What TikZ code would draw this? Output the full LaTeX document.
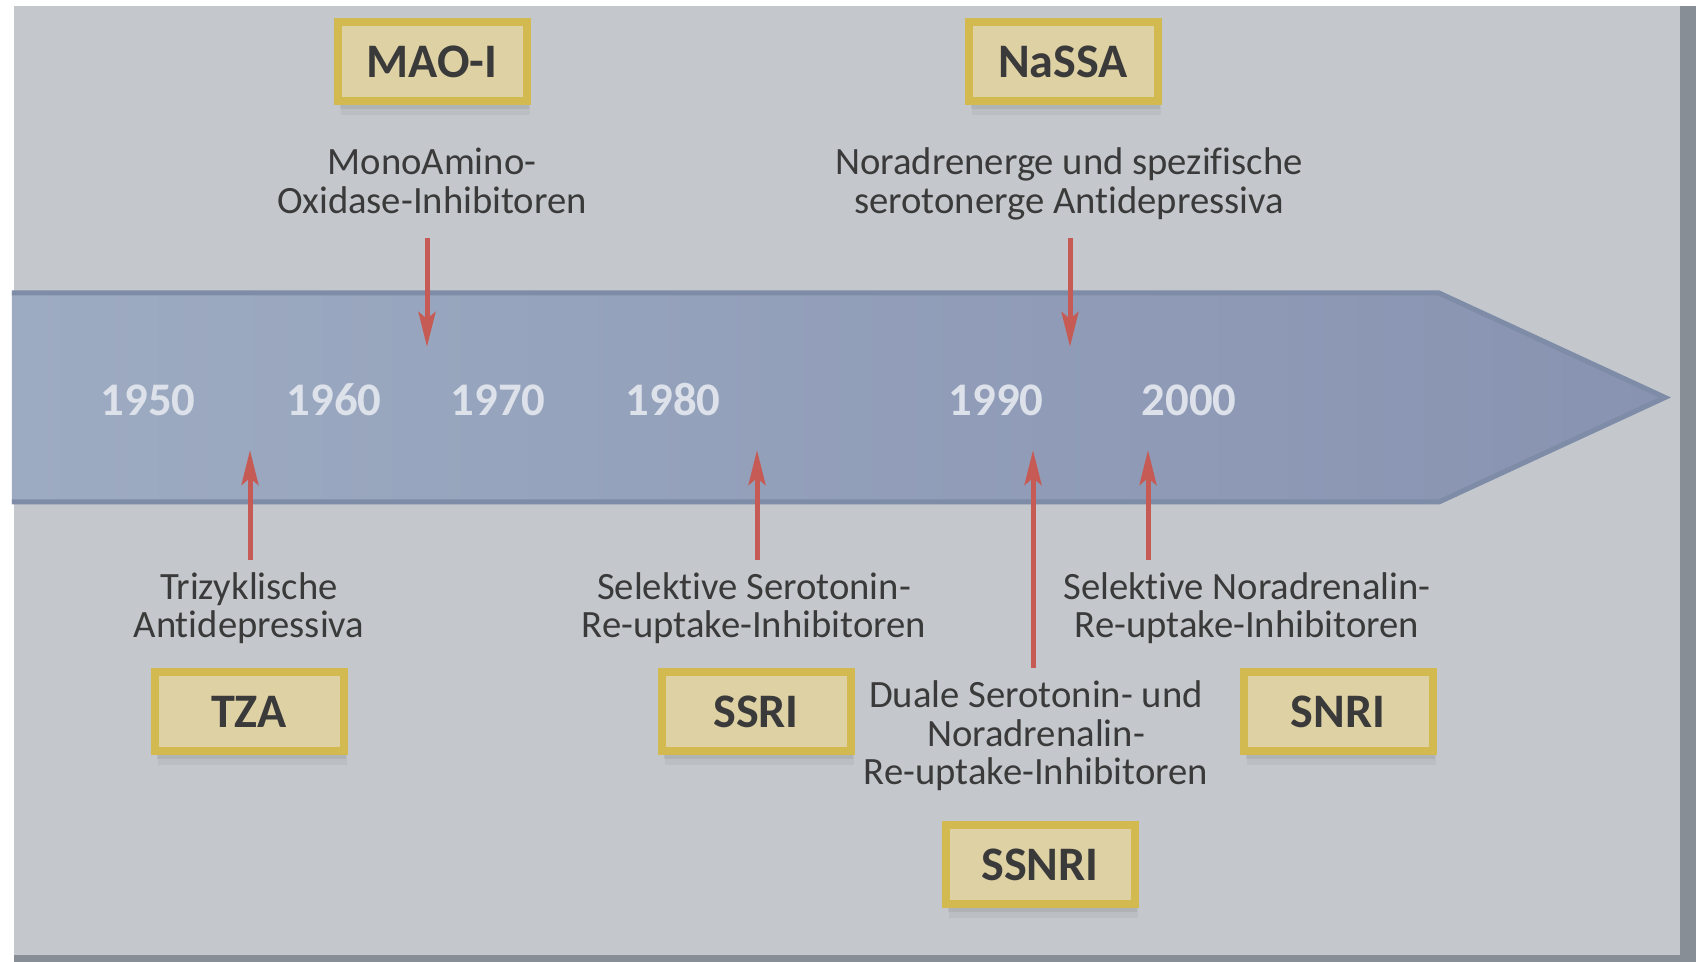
\documentclass[tikz,border=0pt]{standalone}
\usepackage{fontspec}
\setmainfont[Ligatures=NoCommon]{Carlito}
\usetikzlibrary{
  arrows.meta,
  calc,
  positioning,
  shadows
}
\definecolor{panelgray}{HTML}{C4C8CD}
\definecolor{framegray}{HTML}{888E96}
\definecolor{bandleft}{HTML}{9DABC2}
\definecolor{bandright}{HTML}{8893B1}
\definecolor{bandedge}{HTML}{7E8CA8}
\definecolor{yearwhite}{HTML}{DCE1EA}
\definecolor{arrowred}{HTML}{C65B55}
\definecolor{boxfill}{HTML}{DED1A4}
\definecolor{boxgold}{HTML}{D3BA50}
\definecolor{textgray}{HTML}{3A3A3A}

\begin{document}
\begin{tikzpicture}[
  drugbox/.style={draw=boxgold, line width=0.08cm, fill=boxfill,
    minimum width=1.89cm, minimum height=0.79cm,
    font=\bfseries\fontsize{13.7}{16}\selectfont, text=textgray,
    drop shadow={opacity=0.12, shadow xshift=0.03cm, shadow yshift=-0.14cm},
    drop shadow={opacity=0.18, shadow xshift=0.02cm, shadow yshift=-0.08cm}},
  desc/.style={align=center, inner sep=0pt, text=textgray,
    font=\fontsize{11}{10.9}\selectfont},
  year/.style={font=\bfseries\fontsize{13.3}{16}\selectfont, text=yearwhite},
  redarrow/.style={draw=arrowred, line width=0.05cm,
    -{Stealth[length=0.35cm, width=0.17cm, inset=0.07cm]}}
]
  % panel
  \fill[white] (0,0) rectangle (16.96,9.62);
  \fill[framegray] (0.14,0) rectangle (16.96,9.56);
  \fill[panelgray] (0.14,0.07) rectangle (16.80,9.56);

  % timeline band
  \shade[left color=bandleft, right color=bandright]
    (0.12,4.60) -- (14.39,4.60) -- (16.65,5.645) -- (14.39,6.69) -- (0.12,6.69) -- cycle;
  \draw[bandedge, line width=0.05cm]
    (0.12,6.69) -- (14.39,6.69) -- (16.65,5.645) -- (14.39,4.60) -- (0.12,4.60);

  \node[year] (y1950) at (1.48,5.62) {1950};
  \node[year] (y1960) at (3.34,5.62) {1960};
  \node[year] (y1970) at (4.98,5.62) {1970};
  \node[year] (y1980) at (6.73,5.62) {1980};
  \node[year] (y1990) at (9.96,5.62) {1990};
  \node[year] (y2000) at (11.89,5.62) {2000};

  % arrow tips on the band
  \coordinate (maotip)   at (4.27,6.15);
  \coordinate (nassatip) at (10.70,6.15);
  \coordinate (tzatip)   at (2.50,5.12);
  \coordinate (ssritip)  at (7.57,5.12);
  \coordinate (ssnritip) at (10.33,5.12);
  \coordinate (snritip)  at (11.48,5.12);

  % above the band
  \node[drugbox] (mao) at (4.32,9.00) {MAO-I};
  \node[desc] (maotext) at (4.32,7.81) {MonoAmino-\\Oxidase-Inhibitoren};
  \node[drugbox] (nassa) at (10.63,9.00) {NaSSA};
  \node[desc] (nassatext) at (10.69,7.78) {Noradrenerge und spezifische\\serotonerge Antidepressiva};

  % below the band
  \node[desc] (tzatext) at (2.49,3.54) {Trizyklische\\Antidepressiva};
  \node[drugbox] (tza) at (2.49,2.50) {TZA};
  \node[desc] (ssritext) at (7.54,3.54) {Selektive Serotonin-\\Re-uptake-Inhibitoren};
  \node[drugbox] (ssri) at (7.56,2.50) {SSRI};
  \node[desc] (snritext) at (12.47,3.54) {Selektive Noradrenalin-\\Re-uptake-Inhibitoren};
  \node[drugbox] (snri) at (13.38,2.50) {SNRI};
  \node[desc] (ssnritext) at (10.36,2.26) {Duale Serotonin- und\\Noradrenalin-\\Re-uptake-Inhibitoren};
  \node[drugbox] (ssnri) at (10.40,0.97) {SSNRI};

  \draw[redarrow, shorten <=0.24cm] (maotext.south -| maotip) -- (maotip);
  \draw[redarrow, shorten <=0.17cm] (nassatext.south -| nassatip) -- (nassatip);
  \draw[redarrow, shorten <=0.12cm] (tzatext.north -| tzatip) -- (tzatip);
  \draw[redarrow, shorten <=0.12cm] (ssritext.north -| ssritip) -- (ssritip);
  \draw[redarrow, shorten <=0.12cm] (snritext.north -| snritip) -- (snritip);
  \draw[redarrow, shorten <=0.12cm] (ssnritext.north -| ssnritip) -- (ssnritip);
\end{tikzpicture}
\end{document}
